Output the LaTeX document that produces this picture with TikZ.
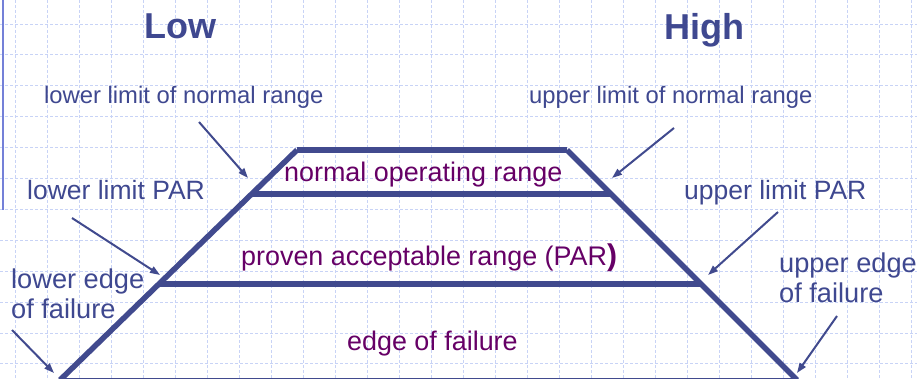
\documentclass[tikz,border=0pt]{standalone}
\usepackage{fontspec}
\setmainfont{Liberation Sans}
\usetikzlibrary{arrows.meta}
\definecolor{inkblue}{HTML}{414A8E}
\definecolor{labelblue}{HTML}{3F4890}
\definecolor{zoneviolet}{HTML}{660066}
\definecolor{gridblue}{HTML}{C8D3F6}
\definecolor{rulerblue}{HTML}{7480D8}
\tikzset{
  gridline/.style={gridblue, line width=0.9pt, dash pattern=on 3pt off 2pt},
  boundary/.style={inkblue, line width=5.5pt},
  pointer/.style={inkblue, line width=2pt, -{Triangle[length=10pt,width=7pt]}},
  title/.style={labelblue, font=\fontsize{36}{40}\selectfont\bfseries, anchor=base},
  toplabel/.style={labelblue, font=\fontsize{23.8}{28}\selectfont, anchor=base west, inner sep=0pt},
  parlabel/.style={labelblue, font=\fontsize{26.5}{30}\selectfont, anchor=base west, inner sep=0pt},
  edgelabel/.style={labelblue, font=\fontsize{27.2}{29.5}\selectfont, anchor=north west, inner sep=0pt, align=left},
  zone/.style={zoneviolet, font=\fontsize{26.9}{30}\selectfont, anchor=base west, inner sep=0pt},
}
\begin{document}
\begin{tikzpicture}[x=1pt, y=-1pt]
  \useasboundingbox (0,0) rectangle (917,379);
  \fill[white] (0,0) rectangle (917,379);

  % squared paper
  \foreach \i in {0,...,28} \draw[gridline] (15+32*\i,0) -- (15+32*\i,379);
  \foreach \j in {0,...,11} \draw[gridline] (0,24+30.9*\j) -- (917,24+30.9*\j);
  \draw[rulerblue, line width=1.4pt] (3,0) -- (3,210);

  % corners of the ranges
  \coordinate (bl) at (60,380);
  \coordinate (br) at (797,380);
  \coordinate (tl) at (297,150);
  \coordinate (tr) at (567,150);
  \coordinate (nl) at (252,194);
  \coordinate (nr) at (612,194);
  \coordinate (pl) at (159,284);
  \coordinate (pr) at (701,284);

  % boundaries
  \draw[boundary] (bl) -- (tl);
  \draw[boundary] (br) -- (tr);
  \draw[boundary, line cap=butt] (tl) -- (tr);
  \draw[boundary] (nl) -- (nr);
  \draw[boundary] (pl) -- (pr);
  \draw[inkblue, line width=4pt] (bl) -- (br);

  % headings
  \node[title] (low) at (180,39) {Low};
  \node[title] (high) at (704,39.5) {High};

  % side labels
  \node[toplabel] (lln) at (44,103.5) {lower limit of normal range};
  \node[toplabel] (uln) at (529,103.5) {upper limit of normal range};
  \node[parlabel] (llp) at (27,200) {lower limit PAR};
  \node[parlabel] (ulp) at (684,200) {upper limit PAR};
  \node[edgelabel] (lef) at (11,269) {lower edge\\of failure};
  \node[edgelabel] (uef) at (779,253) {upper edge\\of failure};

  % range names
  \node[zone] (nor) at (284,182) {normal operating range};
  \node[zone] (par) at (241,265) {proven acceptable range (PAR{\fontsize{30}{30}\selectfont\bfseries)}};
  \node[zone] (eof) at (347,350) {edge of failure};

  % pointers
  \coordinate (a1) at (199,122);
  \coordinate (a1e) at (248,178);
  \coordinate (a2) at (674,128);
  \coordinate (a2e) at (612,178);
  \coordinate (a3) at (72,218);
  \coordinate (a3e) at (160,275);
  \coordinate (a4) at (12,330);
  \coordinate (a4e) at (54,373);
  \coordinate (a5) at (778,212);
  \coordinate (a5e) at (708,275);
  \coordinate (a6) at (837,316);
  \coordinate (a6e) at (797,373);
  \draw[pointer] (a1) -- (a1e);
  \draw[pointer] (a2) -- (a2e);
  \draw[pointer] (a3) -- (a3e);
  \draw[pointer] (a4) -- (a4e);
  \draw[pointer] (a5) -- (a5e);
  \draw[pointer] (a6) -- (a6e);
\end{tikzpicture}
\end{document}
